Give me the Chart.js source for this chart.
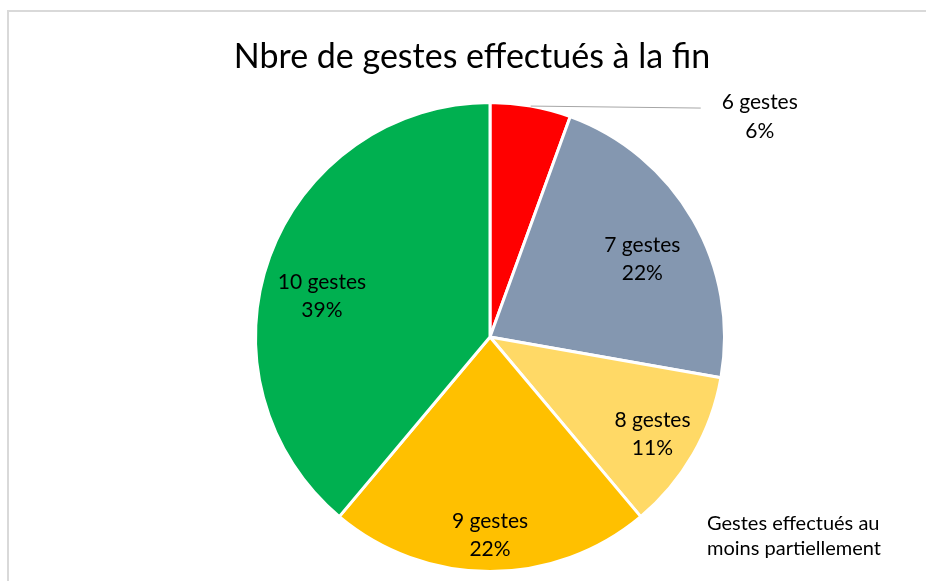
<!DOCTYPE html>
<html>
<head>
<meta charset="utf-8">
<script src="https://cdn.jsdelivr.net/npm/chart.js@4.4.0/dist/chart.umd.min.js"></script>
<style>
  html, body { margin: 0; padding: 0; background: #fff; }
  #wrap { position: relative; width: 926px; height: 581px; overflow: hidden; }
  #frame { position: absolute; left: 7px; top: 10px; width: 940px; height: 600px;
           border-left: 2px solid #d9d9d9; border-top: 2px solid #d9d9d9; }
  canvas { position: absolute; left: 0; top: 0; }
</style>
</head>
<body>
<div id="wrap">
  <div id="frame"></div>
  <canvas id="pie" width="926" height="581"></canvas>
</div>
<script>
const categories = ['6 gestes', '7 gestes', '8 gestes', '9 gestes', '10 gestes'];
const counts = [1, 4, 2, 4, 7];
const percentLabels = ['6%', '22%', '11%', '22%', '39%'];
const colors = ['#FF0000', '#8497B0', '#FFD966', '#FFC000', '#00B050'];

const titleText = 'Nbre de gestes effectués à la fin';
const noteLines = ['Gestes effectués au', 'moins partiellement'];

const fontFamily = 'Lato, "Open Sans", sans-serif';

// label placement inside each slice (fraction of radius + small nudge)
const labelDepth = [0, 0.75, 0.8, 0.84, 0.74];
const labelNudge = [[0, 0], [0, 10], [0, 3], [0, 1], [-5, 19]];

const labelPlugin = {
    id: 'labels',
    afterDatasetsDraw(chart) {
        const ctx = chart.ctx;
        const arcs = chart.getDatasetMeta(0).data;
        ctx.save();
        ctx.fillStyle = '#000';
        ctx.textAlign = 'center';
        ctx.textBaseline = 'middle';
        ctx.font = '21px ' + fontFamily;

        arcs.forEach((arc, i) => {
            const p = arc.getProps(['x', 'y', 'startAngle', 'endAngle', 'outerRadius']);
            const mid = (p.startAngle + p.endAngle) / 2;
            if (i === 0) {
                // small slice: label outside with a leader line
                const sx = p.x + Math.cos(mid) * p.outerRadius;
                const sy = p.y + Math.sin(mid) * p.outerRadius;
                ctx.strokeStyle = '#a6a6a6';
                ctx.lineWidth = 1;
                ctx.beginPath();
                ctx.moveTo(sx, sy);
                ctx.lineTo(sx + 170, sy + 2);
                ctx.stroke();
                ctx.fillText(categories[i], sx + 229, sy - 4);
                ctx.fillText(percentLabels[i], sx + 229, sy + 25);
            } else {
                const r = p.outerRadius * labelDepth[i];
                const cx = p.x + Math.cos(mid) * r + labelNudge[i][0];
                const cy = p.y + Math.sin(mid) * r + labelNudge[i][1];
                ctx.fillText(categories[i], cx, cy - 14);
                ctx.fillText(percentLabels[i], cx, cy + 14);
            }
        });

        // title
        ctx.font = '34px ' + fontFamily;
        ctx.fillText(titleText, 472, 57);

        // note bottom right
        ctx.textAlign = 'left';
        ctx.font = '20px ' + fontFamily;
        ctx.fillText(noteLines[0], 707, 524);
        ctx.fillText(noteLines[1], 707, 549);
        ctx.restore();
    }
};

new Chart(document.getElementById('pie'), {
    type: 'pie',
    data: {
        labels: categories,
        datasets: [{
            data: counts,
            backgroundColor: colors,
            borderColor: '#ffffff',
            borderWidth: 3
        }]
    },
    options: {
        responsive: false,
        animation: false,
        layout: { padding: { top: 101, bottom: 8, left: 254, right: 200 } },
        plugins: {
            legend: { display: false },
            title: { display: false },
            tooltip: { enabled: false }
        }
    },
    plugins: [labelPlugin]
});
</script>
</body>
</html>
